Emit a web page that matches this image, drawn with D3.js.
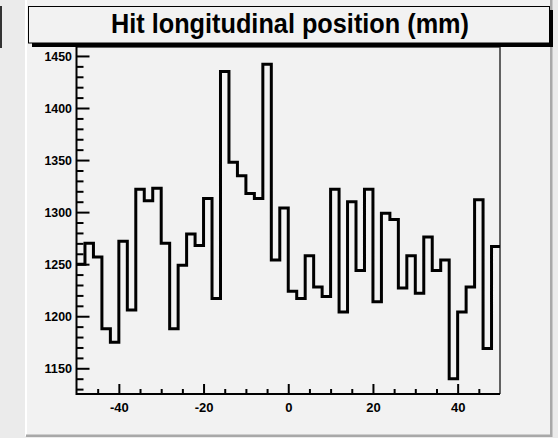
<!DOCTYPE html>
<html>
<meta charset="utf-8">
<style>
body { margin: 0; background: #e9e9e9; }
svg { display: block; }
text { font-family: "Liberation Sans", Arial, Helvetica, sans-serif; font-weight: bold; fill: #000; }
</style>
<body>
</body>
<script src="https://cdn.jsdelivr.net/npm/d3@7"></script>
<script>

// histogram: 50 bins of width 2 from -50 to 50
var titleText = "Hit longitudinal position (mm)";
var binLow = -50, binHigh = 50, binWidth = 2;
var counts = [1250, 1270, 1257, 1188, 1175, 1272, 1206, 1322, 1311, 1323,
              1270, 1188, 1249, 1279, 1268, 1313, 1217, 1435, 1348, 1335,
              1318, 1313, 1442, 1254, 1304, 1224, 1217, 1258, 1228, 1219,
              1322, 1204, 1310, 1244, 1322, 1214, 1299, 1293, 1227, 1258,
              1222, 1276, 1244, 1254, 1140, 1204, 1228, 1312, 1169, 1267];
var xMajor = [-40, -20, 0, 20, 40];
var xMinor = [-45, -35, -30, -25, -15, -10, -5, 5, 10, 15, 25, 30, 35, 45];
var yMajor = [1150, 1200, 1250, 1300, 1350, 1400, 1450];
var yMinor = [1130, 1140, 1160, 1170, 1180, 1190, 1210, 1220, 1230, 1240,
              1260, 1270, 1280, 1290, 1310, 1320, 1330, 1340, 1360, 1370,
              1380, 1390, 1410, 1420, 1430, 1440];
var yRange = [1125.3, 1458.6];

var width = 558, height = 438;
var frame = { left: 76.5, right: 500, top: 47, bottom: 394 };

var svg = d3.select("body").append("svg")
    .attr("width", width)
    .attr("height", height);

// pad background with bevel
svg.append("rect").attr("x", 0).attr("y", 0).attr("width", width).attr("height", height).attr("fill", "#ebebeb");
svg.append("rect").attr("x", 26).attr("y", 0).attr("width", 526).attr("height", 436).attr("fill", "#f2f2f2");
svg.append("rect").attr("x", 25).attr("y", 0).attr("width", 2).attr("height", 436).attr("fill", "#ffffff");
svg.append("rect").attr("x", 26).attr("y", 434.5).attr("width", 526).attr("height", 2.5).attr("fill", "#a8a8a8");
svg.append("rect").attr("x", 550).attr("y", 0).attr("width", 2.5).attr("height", 437).attr("fill", "#a8a8a8");
// edge of the neighbouring pad
svg.append("rect").attr("x", 0).attr("y", 6).attr("width", 2).attr("height", 42).attr("fill", "#333");

var x = d3.scaleLinear().domain([binLow, binHigh]).range([frame.left, frame.right]);
var y = d3.scaleLinear().domain(yRange).range([frame.bottom, frame.top]);

// frame right / top
svg.append("path")
    .attr("d", "M" + frame.left + "," + frame.top + "H" + frame.right + "V" + frame.bottom)
    .attr("fill", "none").attr("stroke", "#333").attr("stroke-width", 1.5);

// histogram line
var pts = counts.map(function (c, i) { return [binLow + i * binWidth, c]; });
pts.push([binHigh, counts[counts.length - 1]]);
svg.append("path")
    .datum(pts)
    .attr("fill", "none")
    .attr("stroke", "#000")
    .attr("stroke-width", 3)
    .attr("d", d3.line()
        .x(function (d) { return x(d[0]); })
        .y(function (d) { return y(d[1]); })
        .curve(d3.curveStepAfter));

// axes
function styleAxis(g) {
  g.select(".domain").remove();
  g.selectAll(".tick line").attr("stroke", "#000").attr("stroke-width", 2);
  g.selectAll("text").attr("font-size", 13).attr("fill", "#000");
}

svg.append("g")
    .attr("transform", "translate(" + frame.left + ",0)")
    .call(d3.axisLeft(y).tickValues(yMinor).tickSize(-7).tickFormat(""))
    .call(styleAxis);
var yAx = svg.append("g")
    .attr("transform", "translate(" + frame.left + ",0)")
    .call(d3.axisLeft(y).tickValues(yMajor).tickSize(-13).tickPadding(4.5)
          .tickFormat(function (d) { return String(d); }))
    .call(styleAxis);
yAx.selectAll("text")
    .attr("font-family", "'Liberation Sans', Arial, sans-serif")
    .attr("textLength", 27.5)
    .attr("lengthAdjust", "spacingAndGlyphs");

svg.append("g")
    .attr("transform", "translate(0," + frame.bottom + ")")
    .call(d3.axisBottom(x).tickValues(xMinor).tickSize(-5).tickFormat(""))
    .call(styleAxis);
svg.append("g")
    .attr("transform", "translate(0," + frame.bottom + ")")
    .call(d3.axisBottom(x).tickValues(xMajor).tickSize(-10).tickPadding(8.5)
          .tickFormat(function (d) { return String(d); }))
    .call(styleAxis);

// axis lines
svg.append("path")
    .attr("d", "M" + frame.left + "," + frame.top + "V" + frame.bottom + "H" + frame.right)
    .attr("fill", "none").attr("stroke", "#000").attr("stroke-width", 2);

// title box with shadow
svg.append("rect").attr("x", 32).attr("y", 10).attr("width", 521).attr("height", 37).attr("fill", "#000");
svg.append("rect").attr("x", 28.5).attr("y", 6.5).attr("width", 521).attr("height", 36.5)
    .attr("fill", "#f2f2f2").attr("stroke", "#000").attr("stroke-width", 1);
svg.append("text")
    .attr("x", 290)
    .attr("y", 33)
    .attr("text-anchor", "middle")
    .attr("font-size", 28)
    .attr("textLength", 358)
    .attr("lengthAdjust", "spacingAndGlyphs")
    .text(titleText);

</script>
</html>
